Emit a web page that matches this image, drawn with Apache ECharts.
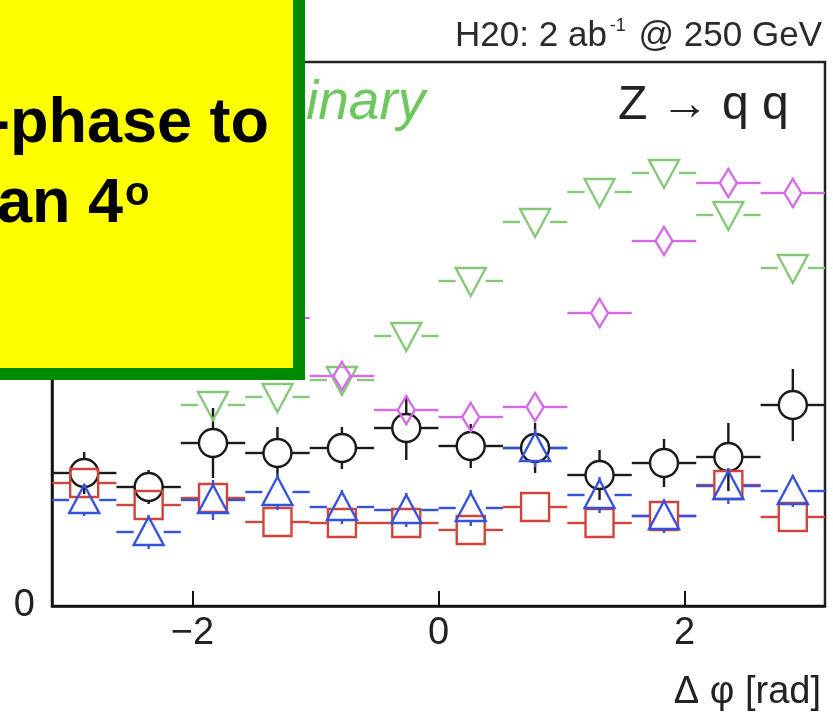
<!DOCTYPE html>
<html><head><meta charset="utf-8">
<script src="https://cdn.jsdelivr.net/npm/echarts@6/dist/echarts.min.js"></script>
<style>html,body{margin:0;padding:0;background:#fff}#c{width:833px;height:717px}</style>
</head><body><div id="c"></div>
<script>
// ---- data ----
const binCenters = [-2.880, -2.356, -1.833, -1.309, -0.785, -0.262, 0.262, 0.785, 1.309, 1.833, 2.356, 2.880];
const binHalfWidth = 0.2618;
const xTicks = [-2, 0, 2];
const yTicks = [0];
const blackVals = [1.33, 1.19, 1.63, 1.53, 1.58, 1.78, 1.60, 1.58, 1.31, 1.43, 1.49, 2.01];
const blackErrs = [0.21, 0.17, 0.35, 0.26, 0.21, 0.32, 0.22, 0.25, 0.25, 0.24, 0.34, 0.36];
const redVals = [1.23, 1.01, 1.08, 0.84, 0.83, 0.83, 0.76, 0.99, 0.83, 0.90, 1.21, 0.89];
const redErrs = [0.12, 0.12, 0.12, 0.12, 0.12, 0.12, 0.12, 0.12, 0.12, 0.12, 0.12, 0.12];
const blueVals = [1.06, 0.74, 1.06, 1.14, 0.99, 0.96, 0.98, 1.58, 1.11, 0.90, 1.20, 1.15];
const blueErrs = [0.16, 0.17, 0.20, 0.18, 0.17, 0.17, 0.18, 0.19, 0.18, 0.17, 0.18, 0.16];
const greenVals = [null, null, 2.01, 2.09, 2.26, 2.70, 3.25, 3.84, 4.14, 4.33, 3.91, 3.38];
const greenErrs = [0.10, 0.10, 0.10, 0.10, 0.10, 0.10, 0.10, 0.10, 0.10, 0.10, 0.10, 0.10];
const magentaVals = [null, null, null, 2.88, 2.30, 1.96, 1.89, 1.99, 2.93, 3.65, 4.23, 4.13];
const magentaErrs = [0.15, 0.15, 0.15, 0.15, 0.15, 0.15, 0.15, 0.15, 0.15, 0.15, 0.15, 0.15];

const FONT = '"Liberation Sans", Arial, Helvetica, sans-serif';
const LW = 2.4;

function markerShape(kind, cx, cy, color) {
  const st = {fill: 'none', stroke: color, lineWidth: LW};
  if (kind === 'circle') return {type: 'circle', shape: {cx: cx, cy: cy, r: 14}, style: st};
  if (kind === 'square') return {type: 'rect', shape: {x: cx - 14, y: cy - 14, width: 28, height: 28}, style: st};
  if (kind === 'triUp') return {type: 'polygon', shape: {points: [[cx, cy - 15], [cx + 15, cy + 13], [cx - 15, cy + 13]]}, style: st};
  if (kind === 'triDown') return {type: 'polygon', shape: {points: [[cx - 15, cy - 13], [cx + 15, cy - 13], [cx, cy + 15]]}, style: st};
  return {type: 'polygon', shape: {points: [[cx, cy - 14], [cx + 8.5, cy], [cx, cy + 14], [cx - 8.5, cy]]}, style: st};
}
const halfW = {circle: 14, square: 14, triUp: 15, triDown: 15, diamond: 8.5};
const halfH = {circle: 14, square: 14, triUp: 14, triDown: 14, diamond: 14};

function makeSeries(name, vals, errs, color, kind, z) {
  const data = [];
  binCenters.forEach((x, i) => { if (vals[i] != null) data.push([x, vals[i], errs[i]]); });
  return {
    type: 'custom', name: name, z: z, clip: true,
    data: data,
    encode: {x: 0, y: 1},
    renderItem: function (params, api) {
      const x = api.value(0), y = api.value(1), e = api.value(2);
      const c = api.coord([x, y]);
      const l = api.coord([x - binHalfWidth, y]);
      const r = api.coord([x + binHalfWidth, y]);
      const t = api.coord([x, y + e]);
      const b = api.coord([x, y - e]);
      const hw = halfW[kind], hh = halfH[kind];
      const ls = {stroke: color, lineWidth: LW};
      const ch = [];
      ch.push({type: 'line', shape: {x1: l[0], y1: c[1], x2: c[0] - hw, y2: c[1]}, style: ls});
      ch.push({type: 'line', shape: {x1: c[0] + hw, y1: c[1], x2: r[0], y2: c[1]}, style: ls});
      if (t[1] < c[1] - hh) ch.push({type: 'line', shape: {x1: c[0], y1: c[1] - hh, x2: c[0], y2: t[1]}, style: ls});
      if (b[1] > c[1] + hh) ch.push({type: 'line', shape: {x1: c[0], y1: c[1] + hh, x2: c[0], y2: b[1]}, style: ls});
      ch.push(markerShape(kind, c[0], c[1], color));
      return {type: 'group', children: ch};
    }
  };
}

const chart = echarts.init(document.getElementById('c'), null, {renderer: 'canvas'});
chart.setOption({
  backgroundColor: '#ffffff',
  animation: false,
  grid: {left: 52, right: 8, top: 62, bottom: 111, show: true, borderColor: '#222', borderWidth: 2.5, backgroundColor: 'transparent'},
  xAxis: {
    type: 'value', min: -Math.PI, max: Math.PI,
    axisLine: {show: true, onZero: false, lineStyle: {color: '#111', width: 2.5}},
    axisTick: {show: true, inside: true, length: 15, lineStyle: {color: '#111', width: 2}, customValues: xTicks},
    axisLabel: {customValues: xTicks, formatter: v => String(v).replace('-', '\u2212'), fontSize: 38, color: '#222', fontFamily: FONT, margin: 9},
    splitLine: {show: false}
  },
  yAxis: {
    type: 'value', min: 0, max: 5.44,
    axisLine: {show: true, onZero: false, lineStyle: {color: '#111', width: 2.5}},
    axisTick: {show: false},
    axisLabel: {customValues: yTicks, fontSize: 38, color: '#222', fontFamily: FONT, margin: 17},
    splitLine: {show: false}
  },
  series: [
    makeSeries('black', blackVals, blackErrs, '#1a1a1a', 'circle', 2),
    makeSeries('red', redVals, redErrs, '#d0453a', 'square', 3),
    makeSeries('blue', blueVals, blueErrs, '#3552dc', 'triUp', 4),
    makeSeries('green', greenVals, greenErrs, '#86c878', 'triDown', 5),
    makeSeries('magenta', magentaVals, magentaErrs, '#d56ae6', 'diamond', 6)
  ],
  graphic: [
    {type: 'text', x: 822, y: 36, z: 10, style: {
      text: '{a|H20: 2 ab}{s|-1}{a| @ 250 GeV}', align: 'right', verticalAlign: 'middle', fill: '#2a2a2a',
      rich: {a: {fontSize: 35, fontFamily: FONT, fill: '#2a2a2a'}, s: {fontSize: 18, fontFamily: FONT, fill: '#2a2a2a', padding: [0, 3, 20, 3]}}
    }},
    {type: 'text', x: 306, y: 104, z: 10, style: {text: 'inary', font: 'italic 55px ' + FONT, fill: '#6cc85c', align: 'left', verticalAlign: 'middle'}},
    {type: 'text', x: 618, y: 106, z: 10, style: {text: 'Z \u2192 q q', font: '48px ' + FONT, fill: '#222', align: 'left', verticalAlign: 'middle'}},
    {type: 'text', x: 821, y: 693, z: 10, style: {text: '\u0394 \u03c6 [rad]', font: '38px ' + FONT, fill: '#222', align: 'right', verticalAlign: 'middle'}},
    {type: 'rect', z: 20, shape: {x: -30, y: -30, width: 329, height: 404}, style: {fill: '#ffff00', stroke: '#008a00', lineWidth: 12}},
    {type: 'text', z: 21, x: -11, y: 125, style: {text: '-phase to', font: 'bold 63px ' + FONT, fill: '#000', align: 'left', verticalAlign: 'middle'}},
    {type: 'text', z: 21, x: -3, y: 205, style: {
      text: '{a|an 4}{s|o}', align: 'left', verticalAlign: 'middle',
      rich: {a: {fontSize: 63, fontWeight: 'bold', fontFamily: FONT, fill: '#000'}, s: {fontSize: 40, fontWeight: 'bold', fontFamily: FONT, fill: '#000', padding: [0, 0, 22, 2]}}
    }}
  ]
});
</script></body></html>
